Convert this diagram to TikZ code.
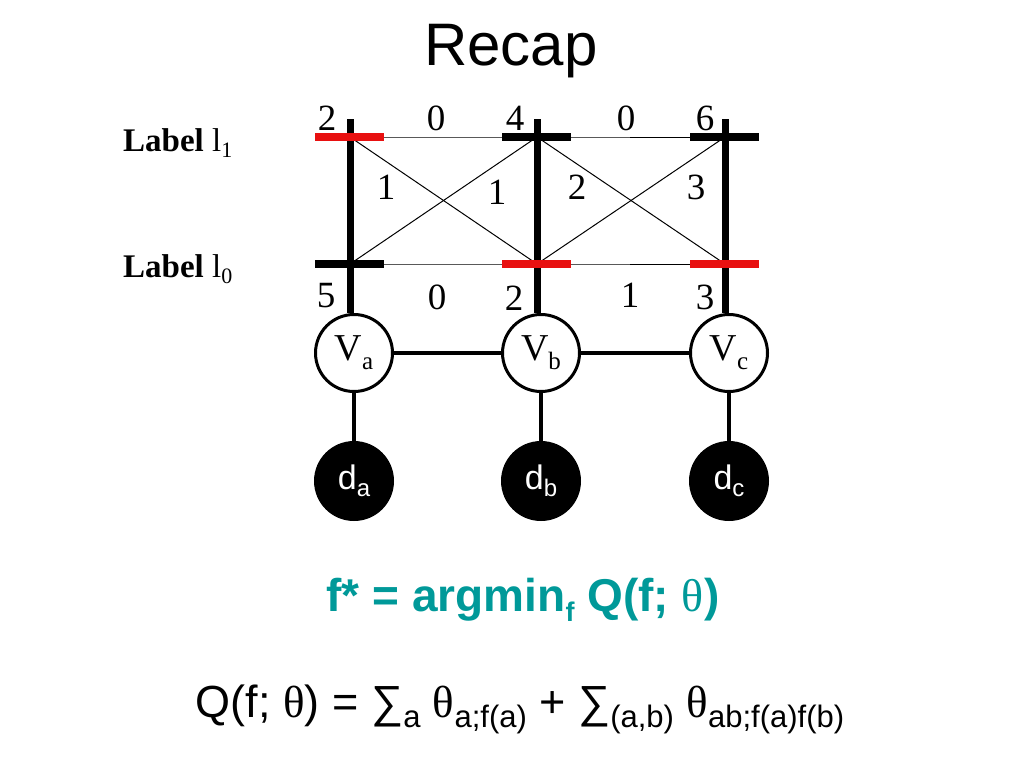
\documentclass[tikz,border=0pt]{standalone}
\usepackage{fontspec}
\setmainfont{Liberation Serif}
\setsansfont{Liberation Sans}
\definecolor{tealf}{RGB}{0,153,153}
\definecolor{barred}{RGB}{232,16,16}
\newcommand\lsub[3]{\raisebox{-#2}{\fontsize{#1}{#1}\selectfont #3}}
\begin{document}
\begin{tikzpicture}[x=1pt,y=-1pt,
  vnode/.style={circle,draw,line width=3pt,minimum size=77pt,inner sep=0pt,fill=white,font=\fontsize{38}{38}\selectfont},
  dnode/.style={circle,fill=black,minimum size=80pt,inner sep=0pt,text=white,font=\sffamily\fontsize{34}{34}\selectfont},
  num/.style={font=\fontsize{37}{37}\selectfont,inner sep=0pt},
  thinline/.style={line width=1pt},
  pole/.style={line width=7pt},
  blackbar/.style={line width=7.5pt,black},
  redbar/.style={line width=8pt,barred},
  conn/.style={line width=4pt},
  lab/.style={font=\fontsize{33}{33}\selectfont,inner sep=0pt,anchor=base west}]
\useasboundingbox (0,0) rectangle (1024,768);

% title
\node[font=\sffamily\fontsize{60}{60}\selectfont,inner sep=0pt,anchor=base] (title) at (511,65) {Recap};

% lattice coordinates
\coordinate (at) at (350,137); \coordinate (ab) at (350,264);
\coordinate (bt) at (537,137); \coordinate (bb) at (537,264);
\coordinate (ct) at (725,137); \coordinate (cb) at (725,264);
\coordinate (atop) at (350,119); \coordinate (btop) at (537,119); \coordinate (ctop) at (725,119);

% nodes
\node[vnode] (va) at (354,353) {V\lsub{25}{9pt}{a}};
\node[vnode] (vb) at (541,353) {V\lsub{25}{9pt}{b}};
\node[vnode] (vc) at (729,353) {V\lsub{25}{9pt}{c}};
\node[dnode] (da) at (354,481) {d\lsub{24}{7pt}{a}};
\node[dnode] (db) at (541,481) {d\lsub{24}{7pt}{b}};
\node[dnode] (dc) at (729,481) {d\lsub{24}{7pt}{c}};

% thin pairwise lines
\draw[thinline] (at) -- (bt) -- (ct);
\draw[thinline] (ab) -- (bb) -- (cb);
\draw[thinline] (at) -- (bb);
\draw[thinline] (ab) -- (bt);
\draw[thinline] (bt) -- (cb);
\draw[thinline] (bb) -- (ct);

% poles
\draw[pole] (atop) -- (va.north -| atop);
\draw[pole] (btop) -- (vb.north -| btop);
\draw[pole] (ctop) -- (vc.north -| ctop);

% bars
\draw[redbar] ([xshift=-35pt]at) -- ([xshift=34pt]at);
\draw[blackbar] ([xshift=-35pt]ab) -- ([xshift=34pt]ab);
\draw[blackbar] ([xshift=-35pt]bt) -- ([xshift=34pt]bt);
\draw[redbar] ([xshift=-35pt]bb) -- ([xshift=34pt]bb);
\draw[blackbar] ([xshift=-35pt]ct) -- ([xshift=34pt]ct);
\draw[redbar] ([xshift=-35pt]cb) -- ([xshift=34pt]cb);

% node connectors
\draw[conn] (va) -- (vb);
\draw[conn] (vb) -- (vc);
\draw[conn] (va) -- (da);
\draw[conn] (vb) -- (db);
\draw[conn] (vc) -- (dc);

% numbers
\node[num] (n1) at (327,118) {2};
\node[num] (n2) at (436,118) {0};
\node[num] (n3) at (515,118) {4};
\node[num] (n4) at (626,118) {0};
\node[num] (n5) at (705,118) {6};
\node[num] (n6) at (386,187) {1};
\node[num] (n7) at (497,192) {1};
\node[num] (n8) at (577,187) {2};
\node[num] (n9) at (696,187) {3};
\node[num] (n10) at (326,296) {5};
\node[num] (n11) at (437,297) {0};
\node[num] (n12) at (514,298) {2};
\node[num] (n13) at (630,295) {1};
\node[num] (n14) at (705,297) {3};

% labels
\node[lab] (l1) at (123,151) {\textbf{Label} l\lsub{22}{6pt}{1}};
\node[lab] (l0) at (123,277) {\textbf{Label} l\lsub{22}{6pt}{0}};

% formulas
\node[font=\sffamily\bfseries\fontsize{46}{46}\selectfont,text=tealf,inner sep=0pt,anchor=base] (fstar) at (523,611)
  {f* = argmin\lsub{27}{10pt}{f} Q(f; {\rmfamily\mdseries θ})};
\node[font=\sffamily\fontsize{45}{45}\selectfont,inner sep=0pt,anchor=base] (qdef) at (520,717)
  {Q(f; {\rmfamily θ}) = ∑\lsub{31}{10pt}{a} {\rmfamily θ}\lsub{31}{10pt}{a;f(a)} + ∑\lsub{31}{10pt}{(a,b)} {\rmfamily θ}\lsub{31}{10pt}{ab;f(a)f(b)}};
\end{tikzpicture}
\end{document}
